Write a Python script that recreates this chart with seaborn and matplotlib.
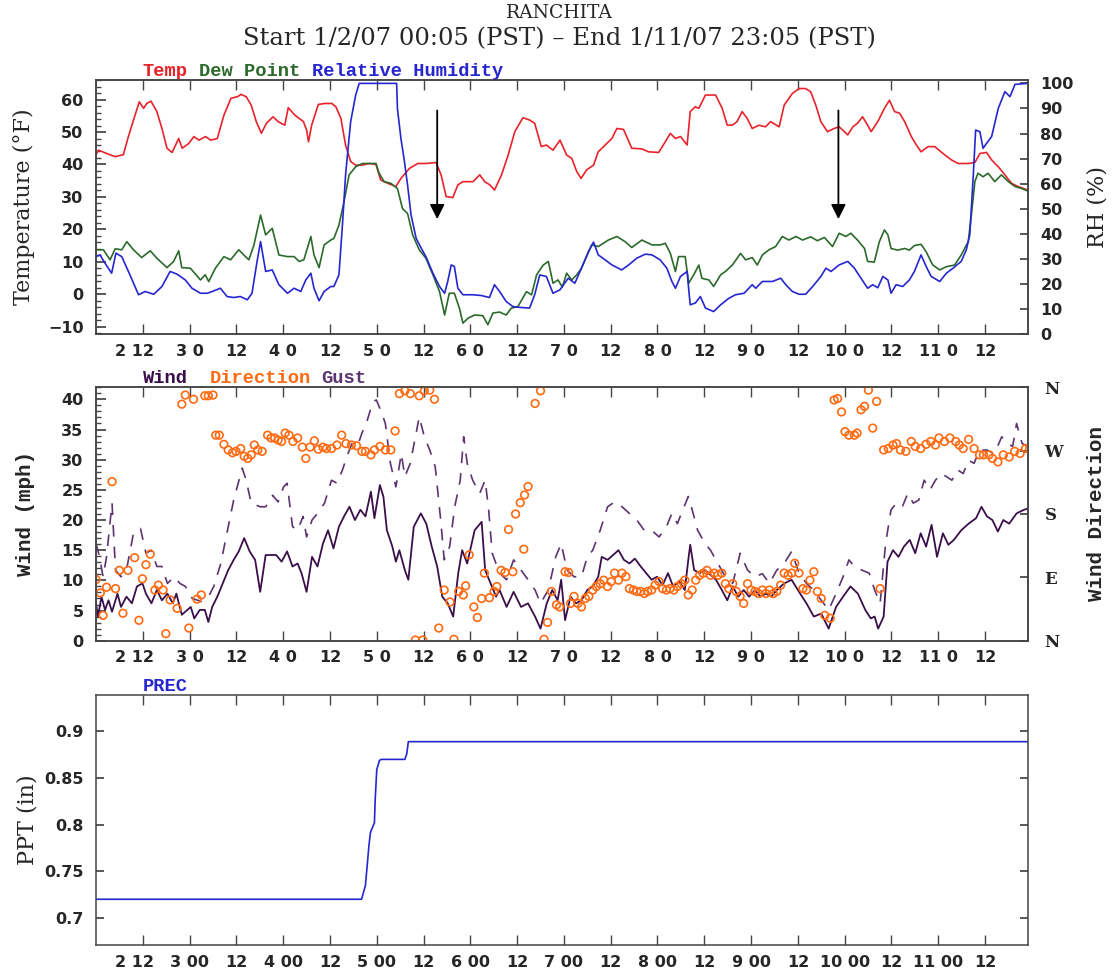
import numpy as np
import pandas as pd
import matplotlib
matplotlib.use("Agg")
import matplotlib.pyplot as plt
from matplotlib.ticker import MultipleLocator
from matplotlib.transforms import ScaledTranslation
import seaborn as sns

# hours since 1/2/07 00:05 PST
temp_h = [0, 0.6, 1.5, 2.7, 4.9, 7, 8.3, 10, 11.1, 12.2, 13, 14.1, 15.6, 16.9, 18.2, 19.5, 21.2, 22.1, 23.8,
          25.1, 26.4, 28.1, 29.4, 31.1, 32.8, 34.6, 36.3, 37.2, 38.5, 39.8, 41.1, 42.4, 43.7, 45.4, 46.7, 48.4,
          49.3, 51, 53.2, 54, 54.5, 55.3, 57, 58.7, 60.5, 61.5, 62.8, 64, 65.3, 66.6, 68.3, 70, 71.8, 73, 74.8,
          76.9, 78.2, 80.4, 82.5, 84.6, 87.2, 88.5, 89.8, 91.5, 92.8, 94.1, 96.7, 98.4, 99.7, 101, 102.2, 104,
          105.7, 107.4, 109.5, 111.2, 112.5, 114.2, 115.5, 117.2, 119, 120.7, 122, 123.3, 124.4, 125.8, 127.6,
          128.8, 130.6, 132.3, 133.6, 135.3, 137.4, 140, 141.7, 144.3, 146, 147.3, 148.6, 149.9, 151.6, 152.4,
          153.7, 154.6, 156.3, 158.9, 160.6, 161.9, 163.2, 164.4, 165.7, 167, 168.3, 170, 171.7, 173, 175.2,
          176.5, 178.6, 180.3, 182, 183.3, 184.6, 185.9, 187.6, 189.3, 190.6, 191.5, 192.8, 194.1, 195.3, 196.6,
          197.9, 198.8, 200.5, 202.2, 203.5, 204.8, 206.1, 207.4, 209.1, 210.4, 211.6, 213.4, 215.1, 217.2,
          219.4, 221.1, 223.7, 225.4, 226.7, 228.4, 229.7, 231.4, 233.1, 234.8, 236.5, 239]
temp_v = [43, 44.4, 44, 43.4, 42.4, 43, 48.6, 55.2, 59.3, 57.3, 58.8, 59.5, 56.3, 51.1, 45, 43.7, 48, 45, 46.5,
          48.6, 47.5, 48.6, 47.5, 48, 55.2, 60.4, 60.9, 61.6, 60.9, 58.3, 53.2, 49.6, 52.7, 54.7, 53.2, 52.1,
          57.5, 55.2, 53.2, 50.6, 47, 52.1, 58.5, 58.8, 58.8, 57.8, 54.2, 46, 40.9, 39.8, 39.8, 40.3, 40, 35.2,
          34.2, 33.2, 35.7, 38.8, 40.3, 40.3, 40.6, 36.8, 30.1, 29.8, 33.7, 34.7, 34.7, 36.8, 34.7, 33.7, 32.1,
          36.8, 42.9, 50.1, 54.4, 53.7, 52.7, 45.5, 46, 44.4, 47.5, 42.9, 41.9, 37.8, 35.7, 38.3, 39.8, 43.9,
          46, 48, 51.1, 50.8, 45, 44.8, 43.9, 43.7, 47, 49.6, 48, 48.6, 46, 56.3, 57.8, 57.3, 61.4, 61.4, 57.3,
          52.1, 52.1, 53.2, 56.3, 54.2, 51.1, 52.1, 51.6, 53.2, 51.6, 58.3, 61.9, 63.4, 63.4, 62.4, 58.3, 53.2,
          50.1, 51.1, 51.6, 50.6, 49.1, 51.6, 52.7, 54.7, 52.1, 50.1, 53.2, 57.3, 59.8, 56.3, 55.8, 53.2, 48.6,
          46, 43.9, 45.5, 45.5, 43.4, 41.4, 40.3, 40.3, 40.6, 43.4, 43.7, 41.4, 39.3, 36.8, 34.2, 33.2, 32.1]

dew_h = [0, 1.9, 3.6, 4.9, 6.6, 7.9, 9.6, 11.7, 13.9, 15.6, 18.2, 19.9, 21.2, 22, 24.2, 26.8, 28, 28.9, 30.6,
         32.8, 34.5, 36.6, 37.9, 39.2, 40.5, 42.2, 43.5, 45.2, 46.9, 49.1, 50.8, 52.1, 53.3, 55.1, 55.9, 57.2,
         58.5, 60.2, 61, 62.3, 63.6, 64.9, 66.6, 68.3, 70, 71.8, 72.6, 73.9, 75.6, 77.3, 78.6, 79.9, 81.2, 82.9,
         84.6, 86.4, 88.1, 89.4, 90.6, 91.9, 93.2, 94.1, 95.4, 97.1, 99.2, 100.5, 101.8, 103.5, 105.2, 106.5,
         108.2, 110.4, 111.7, 113, 114.7, 116, 117.2, 118.5, 119.6, 120.7, 122, 123.3, 124.5, 125.8, 127.1,
         128.8, 131.4, 133.6, 135.7, 137.4, 140, 142.6, 144.7, 146, 147.3, 148.6, 149.4, 151.1, 152, 153.3,
         154.6, 155.4, 157.2, 158.4, 160.2, 161.4, 163.2, 165.3, 166.6, 168.3, 169.6, 170.9, 172.6, 174.3, 176,
         177.7, 179.5, 181.2, 183.3, 185, 186.8, 188.9, 190.6, 192.3, 193.6, 195.3, 197.1, 197.9, 199.6, 200.9,
         202.2, 203.1, 203.9, 205.6, 207.4, 208.6, 209.9, 211.6, 212.9, 214.6, 216.4, 218.1, 220.2, 221.9,
         223.7, 224.5, 225.4, 226.2, 227.5, 228.8, 230.5, 232.2, 234, 235.7, 237.4, 239]
dew_v = [13.7, 13.7, 10.6, 14, 13.7, 16.2, 13.7, 11.3, 13.4, 11.1, 8.2, 10.1, 13.4, 8.2, 8, 4.4, 6, 3.9, 8,
         11.6, 10.6, 13.7, 12.1, 10.6, 15.2, 24.4, 18.3, 20.3, 12.1, 11.6, 11.6, 10.1, 10.6, 17.8, 12.1, 8.2,
         15.2, 16.7, 17.2, 21.3, 28.5, 36.8, 39.3, 40.3, 40.3, 40.3, 37.3, 34.7, 34.2, 32.6, 26.4, 24.9, 18.3,
         13.7, 11.1, 6, 0.8, -6.4, 0.3, 0.3, -4.3, -8.9, -7.4, -6.4, -6.6, -9.4, -5.8, -5.5, -6.4, -4.3, -3.8,
         0.8, -0.2, 6, 9, 10.1, 3.4, 4.4, 2.2, 6.5, 4.4, 6, 8, 11.6, 15.2, 14.7, 16.7, 17.8, 16.2, 14.4, 16.7,
         15.2, 15.2, 15.7, 12.6, 7, 11.6, 11.6, 3.4, 6, 9, 4.9, 4.4, 2.4, 6, 7, 9, 12.6, 10.6, 11.3, 9, 12.1,
         13.7, 14.7, 17.8, 16.7, 17.8, 16.7, 17.7, 16.5, 17.5, 14.7, 18.8, 17.8, 18.8, 16.7, 14.1, 10.1, 9.9,
         16.2, 19.8, 18.3, 14.1, 13.6, 14.1, 13.6, 15, 15.4, 13.1, 9, 7.5, 8.5, 9, 12.1, 16.2, 24.4, 34.7, 37.3,
         36.2, 37.3, 34.7, 36.8, 34.7, 33.2, 32.6, 31.8]

rh_h = [0, 1, 2.3, 4, 5.1, 6.6, 8.7, 10.9, 12.6, 14.8, 16.9, 19, 20.8, 22.9, 24.6, 26.8, 28.5, 29.8, 31.9, 33.6,
        35.3, 37, 38.8, 40, 41.3, 42.2, 43.5, 45.2, 46.9, 49.1, 50.8, 52.5, 53.8, 55.1, 55.9, 57.2, 58.5, 60.2,
        61, 62.3, 63.2, 64, 65.3, 66.6, 67.5, 77.1, 77.3, 78.2, 79.1, 79.9, 80.8, 82.1, 83.4, 84.6, 86.4, 88.1,
        89.4, 90.2, 91.1, 91.9, 92.8, 94.1, 96.7, 98.8, 100.9, 102.2, 103.5, 105.2, 106.9, 109.1, 111.2, 112.5,
        113.8, 115.5, 117.2, 119, 121.1, 122.8, 124.5, 126.3, 127.6, 128.8, 130.6, 132.3, 134.8, 136.6, 138.7,
        140.9, 142.6, 144.7, 146.4, 147.7, 148.6, 149.9, 151.6, 152, 152.4, 153.7, 155, 156.3, 158.4, 160.2,
        162.3, 164, 166.2, 168.3, 169.2, 170.9, 173.5, 175.6, 176.9, 178.6, 180.3, 182, 183.8, 185.9, 187.2,
        188.5, 190.6, 192.8, 194.5, 196.2, 197.9, 199.2, 200.5, 201.8, 203.1, 203.9, 205.2, 206.9, 208.6,
        209.9, 211.6, 212.9, 214.2, 216.4, 218.1, 219.8, 221.9, 223.2, 224.1, 225, 225.6, 226.7, 227.5, 228.4,
        229.7, 231.4, 233.1, 234.4, 235.7, 239]
rh_v = [30.9, 31.6, 28.3, 24.3, 32.3, 30.9, 23.6, 15.7, 17, 15.9, 19, 25, 23.9, 21.6, 18.3, 16.3, 16.3, 17,
        18.3, 15, 14.6, 15, 13.7, 16.3, 29, 36.9, 25, 25.6, 19.7, 16.3, 18.3, 17, 21.6, 24.3, 18.3, 13.3, 17,
        19, 19, 23.6, 43.6, 63.5, 84.7, 95.4, 100, 100, 90, 78, 68.8, 59.5, 47.5, 38.2, 34.3, 30.9, 24.3, 19,
        16.3, 21, 27.6, 27, 18.3, 15.7, 15.7, 15.4, 14.6, 19.7, 17, 13, 11, 10.6, 10.4, 15.7, 23.6, 23, 16.3,
        17.7, 22.3, 20.3, 26.3, 32.9, 36.7, 31.6, 29.6, 27.6, 25.6, 27.6, 30.3, 31.9, 31.6, 29.6, 26.3, 21,
        18.3, 23, 25, 18, 11.7, 12.4, 15, 10.4, 9, 11.7, 14.3, 15.7, 16.3, 19.7, 18.3, 21, 21, 22.3, 19.7, 17,
        15.9, 15.9, 19, 23, 26.3, 25, 27.6, 29, 26.3, 22.3, 18.3, 19.7, 18.5, 23, 21.6, 16.3, 19.7, 19, 21.6,
        25, 31.6, 27, 23, 21, 24.3, 26.3, 29, 33.6, 39.6, 63.5, 81.4, 80.7, 74.1, 76.1, 78.8, 90, 96.7, 94.7,
        99.6, 100]

wind_h = [0, 0.5, 1.4, 2.3, 3.2, 4.1, 5.5, 6.4, 7.8, 9.2, 10.5, 11.9, 12.8, 14.2, 15.6, 16.9, 18.3, 19.7, 20.6,
          22, 23.4, 24.3, 25.2, 26.6, 27.9, 28.8, 29.8, 31.1, 32.5, 33.9, 35.3, 36.6, 38, 39.4, 40.8, 42.1, 43.5,
          44.9, 46.2, 47.6, 49, 50.4, 51.7, 52.7, 54, 55.4, 56.8, 58.2, 59.5, 60.9, 62.3, 63.6, 65, 66.4, 67.8,
          69.1, 70.5, 71.4, 72.8, 73.7, 74.6, 76, 76.9, 77.8, 79.2, 80.1, 81.5, 83.3, 84.7, 86.1, 87.5, 88.8,
          90.2, 91.6, 92.9, 93.9, 95.2, 97.1, 98.9, 99.8, 101.2, 102.6, 103.5, 105.3, 107.1, 109, 110.8, 112.6,
          114, 115.6, 117, 118.4, 119.3, 120.3, 121.7, 123.1, 124.5, 126, 127.4, 128.8, 129.7, 131.2, 132.6,
          134, 135.4, 136.8, 138.2, 139.7, 141.1, 142.5, 143.9, 145.3, 146.7, 148, 149.6, 151, 151.9, 152.4,
          153.4, 154.8, 156.2, 157.6, 159, 160.5, 161.9, 163.3, 164.7, 166.1, 167.5, 169, 170.4, 171.8, 173.2,
          174.6, 176.5, 178.4, 180.3, 182.2, 184.1, 186, 187.9, 189.8, 191.6, 193.5, 195.4, 197.3, 198.7, 199.7,
          200.6, 202, 203, 204.4, 205.8, 207.2, 208.7, 210.1, 211.5, 212.9, 214.3, 215.7, 217.2, 218.6, 220,
          221.9, 223.8, 225.7, 227.1, 228.5, 229.9, 231.3, 232.7, 234.2, 236.1, 238, 239]
wind_v = [6.2, 4, 7.3, 5.1, 6.7, 4.8, 7.8, 5.6, 7.3, 6.2, 9, 9.5, 7.8, 6.2, 8.4, 6.7, 7.8, 6.2, 7.8, 4.3, 5.1,
          5.6, 3.7, 5.1, 5.1, 3.1, 5.6, 7.3, 9.5, 11.7, 13.4, 14.8, 17, 14.8, 13.4, 8.1, 14.2, 14.2, 14.2, 13.1,
          14.8, 12.3, 12.8, 11.2, 8.1, 13.9, 12.3, 16.1, 18.3, 15.3, 18.9, 20.6, 22.2, 20, 21.7, 20.6, 24.7,
          20.3, 25.8, 23.9, 18.3, 15.6, 13.1, 15, 11.7, 10.1, 18.9, 21.1, 19.4, 15.6, 12.3, 7.3, 6.2, 4, 11.2,
          15, 12.8, 18.3, 19.7, 11.7, 9.5, 7.3, 8.4, 5.6, 8.1, 5.6, 6.2, 4, 2, 6.2, 8.4, 6.7, 10.1, 3.4, 7.3,
          6.2, 6.7, 8.4, 9, 10.6, 13.9, 13.4, 14.2, 15, 13.4, 12.8, 13.6, 12.3, 11.2, 10.1, 10.6, 9.2, 11.2, 9,
          9.8, 8.4, 13.4, 15.9, 11.7, 11.2, 11.7, 10.9, 10.1, 8.4, 6.7, 9, 7.3, 8.4, 7.3, 8.4, 7.3, 7.8, 7.3,
          8.4, 9.5, 10.1, 8.1, 6.2, 4, 4.5, 2, 5.6, 7.3, 9, 7.8, 5.1, 3.7, 4, 2, 4, 13.1, 15, 13.9, 15.6, 16.7,
          14.5, 17.8, 15.6, 19.2, 13.9, 17.8, 15.9, 16.7, 18.3, 19.4, 20.3, 22.2, 20.6, 20, 18.1, 20, 19.4,
          21.1, 21.7, 21.9]

gust_h = [0, 0.9, 1.8, 2.7, 4.1, 5, 6.4, 7.8, 9.6, 11.4, 12.8, 14.2, 15.6, 16.9, 18.3, 20.1, 21.5, 22.9, 24.7,
          27, 29, 30.2, 32, 33.9, 35.3, 37.5, 38.5, 39.8, 42.1, 43.5, 45.3, 46.7, 48.1, 49, 50.4, 51.7, 53.1, 54,
          55.4, 56.8, 58.6, 60.4, 61.8, 63.2, 64.6, 65.9, 67.3, 68.2, 69.6, 71, 71.9, 73.3, 74.2, 75.5, 76.9,
          78.3, 79.2, 80.6, 81.9, 82.9, 84.2, 85.6, 87, 88.4, 89.3, 90.7, 92, 93.4, 94.3, 95.2, 96.6, 98.4, 99.8,
          100.7, 101.6, 103.5, 105.3, 107.1, 109, 110.8, 112.6, 114, 116, 117.9, 119.3, 120.8, 122.6, 124.5,
          126, 127.4, 129.3, 131.2, 133, 134.9, 136.8, 138.7, 140.6, 142.5, 144.4, 146.3, 147.7, 149.1, 150.5,
          151.9, 152.9, 154.3, 156.2, 157.6, 159.5, 161.4, 163.3, 165.2, 167.1, 169, 170.9, 172.7, 174.6,
          176.5, 178.4, 180.3, 182.2, 184.1, 186, 187.9, 189.8, 191.6, 193.1, 194.5, 196.4, 198.3, 199.7,
          201.1, 202.5, 203.9, 205.3, 206.8, 208.2, 209.6, 211, 212.4, 213.9, 215.3, 216.7, 218.1, 219.5, 221,
          222.4, 223.8, 225.2, 226.6, 228.5, 230.4, 232.3, 233.7, 235.1, 236.1, 237.5, 239]
gust_v = [16.1, 13.9, 10.6, 13.9, 22.8, 11.7, 10.6, 11.7, 17.8, 18.6, 14.5, 15, 12.3, 12.3, 9.5, 10.6, 9.5, 9,
          7, 6.5, 7.5, 9, 12.8, 18.9, 23.3, 28.6, 26.6, 22.8, 22.2, 22.2, 24.1, 23, 25.5, 26.1, 18.9, 18.3,
          20.6, 17.2, 20, 21.1, 22.8, 26.6, 26.1, 28.3, 31, 33, 32.7, 34.4, 36.6, 39.6, 39.9, 37.7, 36, 29.4,
          25.5, 31, 27.2, 29.4, 33.8, 37.1, 33.8, 31.6, 28.8, 20, 13.4, 15.6, 22.2, 26.6, 33.8, 29.4, 26.6,
          24.4, 26.6, 21.7, 14.5, 11.2, 10.1, 13.4, 11.7, 10.1, 8.4, 6.2, 8.4, 13.9, 16.1, 11.7, 10.6, 10.6,
          13.9, 15, 18.3, 22.2, 23, 22.2, 21.1, 20, 18.3, 18.3, 17.2, 18.9, 21.1, 19.4, 21.7, 23.9, 21.7, 18.3,
          16.1, 15, 12.8, 10.6, 9.5, 14.5, 11.7, 10.6, 11.1, 9.5, 11.7, 12.8, 14.8, 11.2, 9.5, 8.4, 6.7, 5.1,
          7.8, 10.6, 13.4, 12.3, 11.7, 11.2, 8.4, 6.2, 16.1, 21.7, 22.8, 22.2, 24.4, 22.8, 23.3, 26.6, 25, 26.6,
          27.7, 27.2, 26.6, 28.3, 27.7, 29.9, 29.4, 31.6, 31.6, 31, 33.8, 32.7, 32.2, 36, 32.7, 32.2]

dir_h = [0, 1.1, 1.8, 2.7, 4.1, 5, 6, 6.9, 8.2, 9.9, 11, 11.9, 12.8, 13.9, 15.1, 16, 17.2, 17.9, 19, 20.8, 22,
         22.9, 23.8, 25, 25.9, 27, 27.9, 28.8, 30, 30.7, 31.6, 32.8, 33.9, 35, 35.9, 37.1, 38, 38.9, 39.8, 40.6,
         41.5, 42.6, 44, 44.9, 45.8, 46.7, 47.6, 48.5, 49.5, 50.5, 51.7, 52.9, 53.8, 54.9, 56, 57, 58.2, 59.1,
         60.4, 61.8, 63, 64.1, 65.5, 66.8, 68.2, 69.1, 70.5, 71.4, 72.8, 74.2, 75.6, 76.7, 77.8, 79.2, 80.6,
         81.9, 82.9, 83.8, 84.2, 85.6, 86.8, 87.9, 89.3, 90.8, 91.8, 93, 94.2, 94.8, 95.7, 96.9, 97.8, 98.9,
         99.6, 100.9, 102.1, 102.8, 103.9, 104.9, 105.8, 106.9, 107.6, 108.8, 109.7, 109.9, 110.8, 112.6, 114,
         114.9, 115.8, 116.8, 118.1, 118.9, 120.3, 121.2, 121.7, 122.6, 123.6, 124.5, 125.5, 126.4, 127.4,
         128.3, 129.3, 130.2, 131.2, 132.1, 133, 134, 134.9, 135.9, 136.8, 137.8, 138.7, 139.7, 140.6, 141.5,
         142.5, 143.4, 144.4, 145.3, 146.3, 147.2, 148.2, 149.1, 150.1, 151, 151.9, 152.9, 153.8, 154.8, 155.7,
         156.7, 157.6, 158.6, 159.5, 160.5, 161.4, 162.3, 163.3, 164.2, 165.2, 166.1, 167.1, 168, 169, 169.9,
         170.9, 171.8, 172.7, 173.7, 174.6, 175.6, 176.5, 177.5, 178.4, 179.2, 180.3, 181.3, 182.2, 183.1,
         184.1, 185, 186, 186.9, 188.3, 189.3, 190.2, 191.2, 192.1, 193.1, 194.5, 195.2, 196.2, 197.1, 198.1,
         199.2, 200.2, 201.1, 202, 203.2, 204.4, 205.3, 206.3, 207.7, 209.1, 210.1, 211.5, 212.9, 214.1,
         215.3, 216.2, 217.6, 219, 220.5, 221.4, 222.4, 223.8, 225.2, 226.6, 227.6, 229, 229.9, 231.3, 232.7,
         234.2, 235.6, 237, 238.4, 239.4]
dir_v = [87, 68, 36, 76, 226, 74, 100, 39, 100, 118, 29, 88, 108, 123, 72, 79, 72, 10, 58, 46, 336, 349, 18,
         343, 59, 65, 348, 348, 349, 292, 292, 279, 271, 267, 269, 273, 262, 259, 264, 278, 271, 269, 292, 288,
         288, 285, 283, 295, 292, 283, 288, 275, 259, 275, 284, 272, 275, 273, 273, 278, 292, 280, 278, 277,
         269, 269, 264, 271, 276, 271, 271, 298, 351, 355, 351, 1, 348, 1, 355, 356, 343, 18, 72, 55, 2, 70,
         65, 78, 122, 48, 33, 60, 96, 61, 70, 77, 100, 97, 158, 98, 180, 196, 130, 207, 219, 337, 355, 2, 26,
         70, 51, 48, 98, 97, 53, 63, 53, 48, 60, 63, 72, 77, 81, 86, 77, 84, 96, 86, 96, 91, 74, 72, 70, 70, 67,
         70, 72, 79, 84, 74, 72, 74, 72, 77, 81, 86, 65, 72, 86, 93, 96, 100, 93, 96, 93, 96, 81, 74, 81, 70,
         63, 53, 81, 72, 70, 67, 72, 67, 72, 67, 70, 79, 96, 93, 96, 110, 96, 74, 72, 86, 98, 70, 60, 36, 32,
         342, 344, 325, 297, 292, 292, 295, 328, 333, 356, 302, 340, 74, 271, 273, 278, 280, 271, 269, 283,
         276, 273, 279, 283, 278, 288, 283, 288, 283, 278, 273, 286, 273, 264, 264, 264, 259, 254, 264, 261,
         269, 266, 273, 273]

prec_h = [0, 68.1, 69.1, 70, 70.4, 71.4, 71.6, 72, 72.7, 73.2, 79.2, 79.7, 80.1, 239]
prec_v = [0.72, 0.72, 0.735, 0.778, 0.792, 0.802, 0.827, 0.859, 0.869, 0.87, 0.87, 0.876, 0.889, 0.889]

tick_hours = list(range(12, 229, 12))
labels_mid = ['2 12', '3 0', '12', '4 0', '12', '5 0', '12', '6 0', '12', '7 0', '12', '8 0', '12',
              '9 0', '12', '10 0', '12', '11 0', '12']
labels_low = ['2 12', '3 00', '12', '4 00', '12', '5 00', '12', '6 00', '12', '7 00', '12', '8 00', '12',
              '9 00', '12', '10 00', '12', '11 00', '12']
arrow_hours = [87.5, 190.4]
arrow_from, arrow_to = 57.5, 22.3

sns.set_theme(style="ticks")
plt.rcParams['font.family'] = ['DejaVu Sans']
plt.rcParams['axes.edgecolor'] = '#444444'
plt.rcParams['axes.linewidth'] = 1.1

RED, GREEN, BLUE = '#e8232b', '#2b6a2b', '#2626d0'
WIND, GUST, DIRC = '#3a0f4a', '#5c3470', '#ff6a12'
tickfont = dict(family='DejaVu Sans', weight='bold', size=11.5)
labfont = dict(family='DejaVu Serif', size=16)
monofont = dict(family='Liberation Mono', weight='bold', size=13.5)

fig = plt.figure(figsize=(11.18, 9.77), dpi=100)
L, W = 0.0859, 0.8335
ax1 = fig.add_axes([L, 0.658, W, 0.260])
ax2 = fig.add_axes([L, 0.3442, W, 0.2594])
ax3 = fig.add_axes([L, 0.0328, W, 0.2558])


def style_time(ax, labels):
    ax.set_xlim(0, 239)
    ax.set_xticks(tick_hours)
    ax.set_xticklabels(labels, fontdict=tickfont)
    ax.tick_params(axis='x', direction='in', top=True, bottom=True, length=7, width=1, pad=7, color='#444444')
    lab = ax.get_xticklabels()[0]
    lab.set_transform(lab.get_transform() + ScaledTranslation(-6 / 72, 0, fig.dpi_scale_trans))
    ax.set_xlabel('')


# --- top panel ---
ax1r = ax1.twinx()
sns.lineplot(x=temp_h, y=temp_v, ax=ax1, color=RED, lw=1.2, estimator=None, sort=False)
sns.lineplot(x=dew_h, y=dew_v, ax=ax1, color=GREEN, lw=1.2, estimator=None, sort=False)
sns.lineplot(x=rh_h, y=rh_v, ax=ax1r, color=BLUE, lw=1.2, estimator=None, sort=False)
ax1.set_ylim(-12.3, 66)
ax1r.set_ylim(0, 101.3)
style_time(ax1, labels_mid)
ax1.set_yticks([-10, 0, 10, 20, 30, 40, 50, 60])
ax1.set_yticklabels(['\u221210', '0', '10', '20', '30', '40', '50', '60'], fontdict=tickfont)
ax1.yaxis.set_minor_locator(MultipleLocator(2))
ax1.tick_params(axis='y', which='major', direction='in', length=7, pad=9, color='#444444')
ax1.tick_params(axis='y', which='minor', direction='in', length=3.5, color='#444444')
ax1r.set_yticks(range(0, 101, 10))
ax1r.set_yticklabels([str(v) for v in range(0, 101, 10)], fontdict=tickfont)
ax1r.tick_params(axis='y', direction='in', length=6, pad=9, color='#444444')
ax1.set_ylabel('Temperature (°F)', **labfont)
ax1.yaxis.set_label_coords(-0.066, 0.5)
ax1r.set_ylabel('RH (%)', **labfont)
ax1r.yaxis.set_label_coords(1.063, 0.5)
for xa in arrow_hours:
    ax1.annotate('', xy=(xa, arrow_to), xytext=(xa, arrow_from),
                 arrowprops=dict(arrowstyle='-|>', color='black', lw=1.3, mutation_scale=22))
ax1.text(12, 1.015, 'Temp', color=RED, transform=ax1.get_xaxis_transform(), **monofont)
ax1.text(26.5, 1.015, 'Dew Point', color=GREEN, transform=ax1.get_xaxis_transform(), **monofont)
ax1.text(55.3, 1.015, 'Relative Humidity', color=BLUE, transform=ax1.get_xaxis_transform(), **monofont)

# --- middle panel ---
ax2r = ax2.twinx()
sns.lineplot(x=gust_h, y=gust_v, ax=ax2, color=GUST, lw=1.2, estimator=None, sort=False,
             linestyle=(0, (7, 6)))
sns.lineplot(x=wind_h, y=wind_v, ax=ax2, color=WIND, lw=1.3, estimator=None, sort=False)
sns.scatterplot(x=dir_h, y=dir_v, ax=ax2r, color=DIRC, s=30, linewidth=1.2, marker='o')
pts = ax2r.collections[-1]
pts.set_facecolor('none')
pts.set_edgecolor(DIRC)
ax2.set_ylim(0, 42)
ax2r.set_ylim(0, 360)
style_time(ax2, labels_mid)
ax2.set_yticks(range(0, 41, 5))
ax2.set_yticklabels([str(v) for v in range(0, 41, 5)], fontdict=tickfont)
ax2.yaxis.set_minor_locator(MultipleLocator(1))
ax2.tick_params(axis='y', which='major', direction='in', length=7, pad=9, color='#444444')
ax2.tick_params(axis='y', which='minor', direction='in', length=3.5, color='#444444')
ax2r.set_yticks([0, 90, 180, 270, 360])
ax2r.set_yticklabels(['N', 'E', 'S', 'W', 'N'], fontdict=dict(family='DejaVu Serif', weight='bold', size=12))
ax2r.tick_params(axis='y', direction='in', length=6, pad=12, color='#444444')
ax2.set_ylabel('Wind (mph)', family='Liberation Mono', weight='bold', size=15)
ax2.yaxis.set_label_coords(-0.066, 0.5)
ax2r.set_ylabel('Wind Direction', family='Liberation Mono', weight='bold', size=15)
ax2r.yaxis.set_label_coords(1.063, 0.5)
ax2.text(12, 1.015, 'Wind', color=WIND, transform=ax2.get_xaxis_transform(), **monofont)
ax2.text(29.1, 1.015, 'Direction', color=DIRC, transform=ax2.get_xaxis_transform(), **monofont)
ax2.text(57.7, 1.015, 'Gust', color=GUST, transform=ax2.get_xaxis_transform(), **monofont)

# --- bottom panel ---
sns.lineplot(x=prec_h, y=prec_v, ax=ax3, color=BLUE, lw=1.2, estimator=None, sort=False)
ax3.set_ylim(0.671, 0.939)
style_time(ax3, labels_low)
ax3.set_yticks([0.7, 0.75, 0.8, 0.85, 0.9])
ax3.set_yticklabels(['0.7', '0.75', '0.8', '0.85', '0.9'], fontdict=tickfont)
ax3.tick_params(axis='y', direction='in', left=True, right=True, length=6, pad=9, color='#444444')
ax3.set_ylabel('PPT (in)', **labfont)
ax3.yaxis.set_label_coords(-0.062, 0.5)
ax3.text(12, 1.015, 'PREC', color=BLUE, transform=ax3.get_xaxis_transform(), **monofont)

for a in (ax1r, ax2r):
    a.tick_params(axis='x', which='both', bottom=False, top=False, labelbottom=False)

fig.text(0.5, 1 - 13 / 977, 'RANCHITA', ha='center', va='center', family='DejaVu Serif', size=13.5)
fig.text(0.5, 1 - 39 / 977, 'Start 1/2/07 00:05 (PST) \u2013 End 1/11/07 23:05 (PST)', ha='center', va='center',
         family='DejaVu Serif', size=17.5)

fig.savefig('out.png', dpi=100)
